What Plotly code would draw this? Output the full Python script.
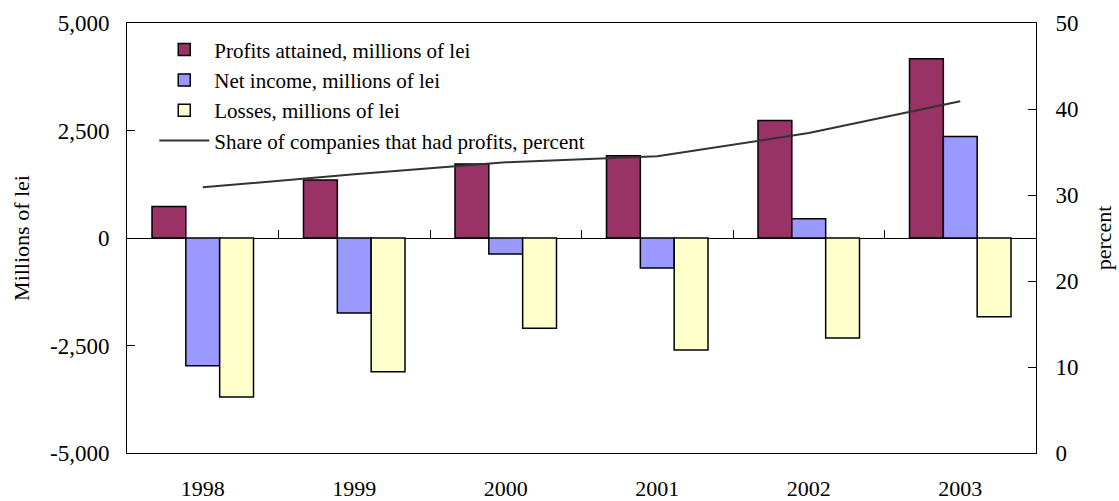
import plotly.graph_objects as go

years = ["1998", "1999", "2000", "2001", "2002", "2003"]
profits = [730, 1350, 1720, 1910, 2730, 4170]
net_income = [-2970, -1745, -370, -700, 450, 2360]
losses = [-3700, -3110, -2100, -2605, -2325, -1830]
share_pct = [30.9, 32.4, 33.8, 34.5, 37.2, 40.9]

y_ticks = [-5000, -2500, 0, 2500, 5000]
y_tick_text = ["-5,000", "-2,500", "0", "2,500", "5,000"]
y2_ticks = [0, 10, 20, 30, 40, 50]

FONT = "Liberation Serif"
outline = dict(color="black", width=1.5)

fig = go.Figure()
fig.add_trace(go.Bar(x=years, y=profits, name="Profits attained, millions of lei",
                     marker=dict(color="#993366", line=outline)))
fig.add_trace(go.Bar(x=years, y=net_income, name="Net income, millions of lei",
                     marker=dict(color="#9999FF", line=outline)))
fig.add_trace(go.Bar(x=years, y=losses, name="Losses, millions of lei",
                     marker=dict(color="#FFFFCC", line=outline)))
fig.add_trace(go.Scatter(x=years, y=share_pct, yaxis="y2", mode="lines",
                         name="Share of companies that had profits, percent",
                         line=dict(color="#333333", width=2)))
# invisible trace to carry the zero-line category tick axis
fig.add_trace(go.Scatter(x=years, y=[0] * len(years), xaxis="x2", mode="none",
                         showlegend=False, hoverinfo="skip"))

fig.update_layout(
    width=1119, height=501,
    margin=dict(l=127, r=83, t=23, b=48),
    paper_bgcolor="white", plot_bgcolor="white",
    font=dict(family=FONT, size=22, color="black"),
    barmode="group", bargap=0.33, bargroupgap=0,
    showlegend=True,
    legend=dict(x=0.03, y=0.985, xanchor="left", yanchor="top",
                bgcolor="rgba(0,0,0,0)", font=dict(family=FONT, size=21),
                traceorder="normal", itemwidth=50),
    xaxis=dict(type="category", categoryarray=years, range=[-0.5, 5.5],
               showline=True, linecolor="black", linewidth=1, mirror=True,
               ticks="", showgrid=False, tickfont=dict(size=22),
               ticklabelstandoff=16, automargin=False),
    xaxis2=dict(type="category", categoryarray=years, range=[-0.5, 5.5],
                overlaying="x", anchor="free", position=0.5, side="bottom",
                showline=False, ticks="inside", ticklen=8, tickcolor="black",
                tickson="boundaries", showticklabels=False, showgrid=False,
                automargin=False),
    yaxis=dict(range=[-5000, 5000], tickvals=y_ticks, ticktext=y_tick_text,
               showline=True, linecolor="black", linewidth=1,
               ticks="inside", ticklen=8, tickcolor="black",
               tickfont=dict(size=23), ticklabelstandoff=12, automargin=False,
               showgrid=False, zeroline=True, zerolinecolor="black", zerolinewidth=1,
               title=dict(text="Millions of lei", font=dict(size=22), standoff=14)),
    yaxis2=dict(range=[0, 50], tickvals=y2_ticks, overlaying="y", side="right",
                showline=True, linecolor="black", linewidth=1,
                ticks="inside", ticklen=8, tickcolor="black", showgrid=False,
                tickfont=dict(size=23), ticklabelstandoff=14, automargin=False,
                zeroline=False,
                title=dict(text="percent", font=dict(size=22), standoff=18)),
)

fig.write_html("out.html", config={"displayModeBar": False},
               post_script="document.body.style.margin='0';")
